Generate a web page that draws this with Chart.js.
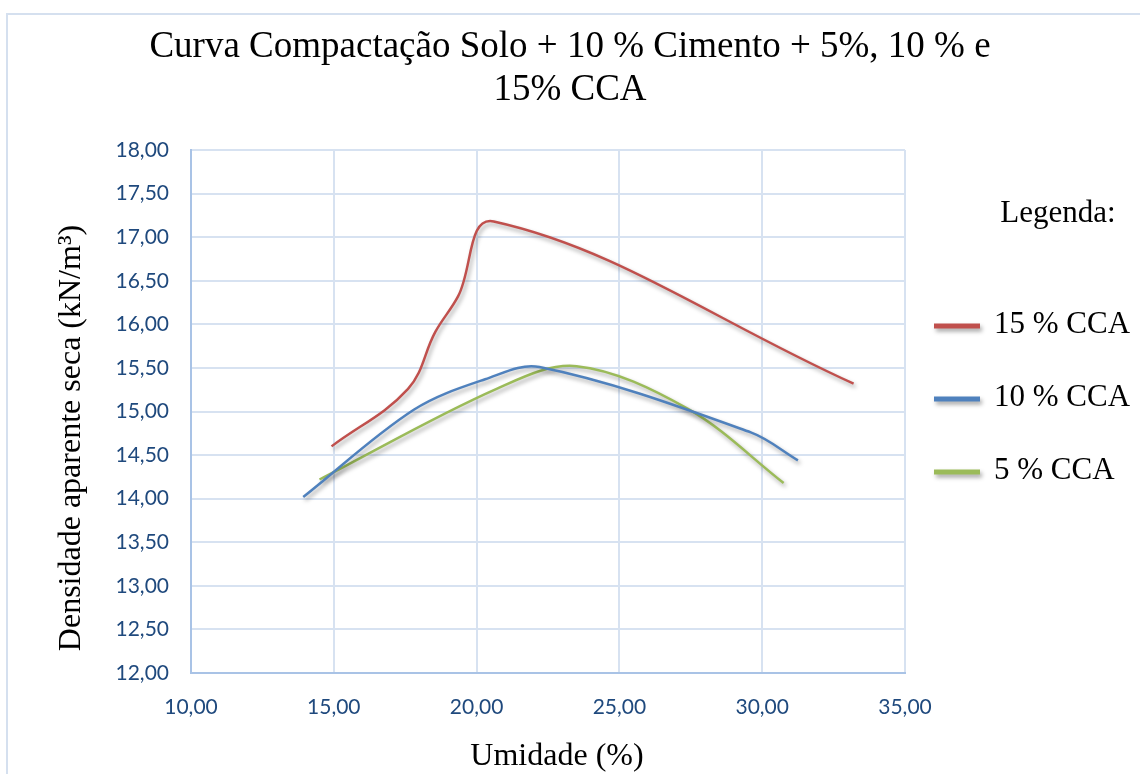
<!DOCTYPE html>
<html>
<head>
<meta charset="utf-8">
<script src="https://cdn.jsdelivr.net/npm/chart.js@4.4.1/dist/chart.umd.min.js"></script>
<style>
  html, body { margin: 0; padding: 0; background: #ffffff; }
  canvas { display: block; }
</style>
</head>
<body>
<canvas id="chart" width="1140" height="774"></canvas>
<script>
// Texts
const titleLines = ['Curva Compactação Solo + 10 % Cimento + 5%, 10 % e', '15% CCA'];
const xAxisTitle = 'Umidade (%)';
const yAxisTitle = 'Densidade aparente seca (kN/m³)';
const legendTitle = 'Legenda:';

// Series
const seriesNames = ['15 % CCA', '10 % CCA', '5 % CCA'];
const seriesColors = ['#C0504D', '#4F81BD', '#9BBB59'];
const seriesTension = [0.38, 0.34, 0.34];

// Moisture content (%) and dry density (kN/m³) per mix
const umidade15 = [14.92, 17.6, 18.55, 19.35, 20.6, 33.2];
const densidade15 = [14.60, 15.26, 15.91, 16.32, 17.18, 15.32];

const umidade10 = [13.93, 17.8, 20.3, 22.2, 29.6, 31.25];
const densidade10 = [14.02, 15.02, 15.37, 15.51, 14.76, 14.44];

const umidade5 = [14.5, 20.7, 23.5, 27.4, 30.75];
const densidade5 = [14.22, 15.26, 15.52, 15.03, 14.18];

// Axis ranges
const xMin = 10, xMax = 35, xStep = 5;
const yMin = 12, yMax = 18, yStep = 0.5;

const toPoints = (xs, ys) => xs.map((x, i) => ({ x: x, y: ys[i] }));
const commaFmt = v => Number(v).toFixed(2).replace('.', ',');

const datasets = [
  toPoints(umidade15, densidade15),
  toPoints(umidade10, densidade10),
  toPoints(umidade5, densidade5)
].map((pts, i) => ({
  label: seriesNames[i],
  data: pts,
  borderColor: seriesColors[i],
  backgroundColor: seriesColors[i],
  borderWidth: 2.5,
  pointRadius: 0,
  pointHoverRadius: 0,
  tension: seriesTension[i],
  fill: false
}));

const serif = '"Liberation Serif", "Times New Roman", serif';

// White page with the thin frame along the top and left edges
const frame = {
  id: 'frame',
  beforeDraw(chart) {
    const ctx = chart.ctx;
    ctx.save();
    ctx.fillStyle = '#ffffff';
    ctx.fillRect(0, 0, chart.width, chart.height);
    ctx.strokeStyle = '#d5e0ef';
    ctx.lineWidth = 2;
    ctx.beginPath();
    ctx.moveTo(7, chart.height);
    ctx.lineTo(7, 14);
    ctx.lineTo(chart.width, 14);
    ctx.stroke();
    ctx.restore();
  }
};

// Soft drop shadow under each curve
const lineShadow = {
  id: 'lineShadow',
  beforeDatasetDraw(chart) {
    const ctx = chart.ctx;
    ctx.save();
    ctx.shadowColor = 'rgba(0,0,0,0.35)';
    ctx.shadowBlur = 4;
    ctx.shadowOffsetX = 2;
    ctx.shadowOffsetY = 3;
  },
  afterDatasetDraw(chart) {
    chart.ctx.restore();
  }
};

// Axis titles
const axisTitles = {
  id: 'axisTitles',
  afterDraw(chart) {
    const ctx = chart.ctx;
    ctx.save();
    ctx.fillStyle = '#000000';
    ctx.font = '32px ' + serif;
    ctx.textBaseline = 'alphabetic';
    ctx.textAlign = 'center';
    ctx.fillText(xAxisTitle, 557, 765);
    ctx.translate(80, 438);
    ctx.rotate(-Math.PI / 2);
    ctx.fillText(yAxisTitle, 0, 0);
    ctx.restore();
  }
};

// Legend panel on the right
const legendPanel = {
  id: 'legendPanel',
  afterDraw(chart) {
    const ctx = chart.ctx;
    ctx.save();
    ctx.fillStyle = '#000000';
    ctx.font = '31px ' + serif;
    ctx.textAlign = 'center';
    ctx.textBaseline = 'alphabetic';
    ctx.fillText(legendTitle, 1058, 222);

    chart.data.datasets.forEach((ds, i) => {
      const base = 333 + i * 73;
      ctx.save();
      ctx.shadowColor = 'rgba(0,0,0,0.35)';
      ctx.shadowBlur = 4;
      ctx.shadowOffsetX = 2;
      ctx.shadowOffsetY = 3;
      ctx.strokeStyle = ds.borderColor;
      ctx.lineWidth = 5;
      ctx.lineCap = 'butt';
      ctx.beginPath();
      ctx.moveTo(934, base - 7);
      ctx.lineTo(980, base - 7);
      ctx.stroke();
      ctx.restore();

      ctx.fillStyle = '#000000';
      ctx.font = '31px ' + serif;
      ctx.textAlign = 'left';
      ctx.textBaseline = 'alphabetic';
      ctx.fillText(ds.label, 994, base);
    });
    ctx.restore();
  }
};

const tickFont = { family: 'Lato, "Open Sans", sans-serif', size: 21 };
const tickColor = '#1F497D';
const gridColor = '#d7e2f1';
const axisColor = '#a9c3e6';

new Chart(document.getElementById('chart'), {
  type: 'line',
  data: { datasets: datasets },
  options: {
    responsive: false,
    animation: false,
    events: [],
    layout: { padding: 0 },
    plugins: {
      legend: { display: false },
      tooltip: { enabled: false },
      title: {
        display: true,
        text: titleLines,
        color: '#000000',
        font: { family: serif, size: 37, weight: 'normal', lineHeight: 1.18 },
        padding: { top: 25, bottom: 37.7 }
      }
    },
    scales: {
      x: {
        type: 'linear',
        min: xMin,
        max: xMax,
        ticks: {
          stepSize: xStep,
          color: tickColor,
          font: tickFont,
          padding: 22,
          maxRotation: 0,
          callback: commaFmt
        },
        grid: { color: gridColor, lineWidth: 2, drawTicks: false },
        border: { color: axisColor, width: 2 },
        afterFit(scale) { scale.height = 101; }
      },
      y: {
        type: 'linear',
        position: 'left',
        min: yMin,
        max: yMax,
        ticks: {
          stepSize: yStep,
          color: tickColor,
          font: tickFont,
          padding: 22,
          callback: commaFmt
        },
        grid: { color: gridColor, lineWidth: 2, drawTicks: false },
        border: { color: axisColor, width: 2 },
        afterFit(scale) { scale.width = 191; }
      },
      legendSpace: {
        type: 'linear',
        position: 'right',
        display: true,
        grid: { display: false },
        border: { display: false },
        ticks: { display: false },
        afterFit(scale) { scale.width = 235; }
      }
    }
  },
  plugins: [frame, lineShadow, axisTitles, legendPanel]
});
</script>
</body>
</html>
